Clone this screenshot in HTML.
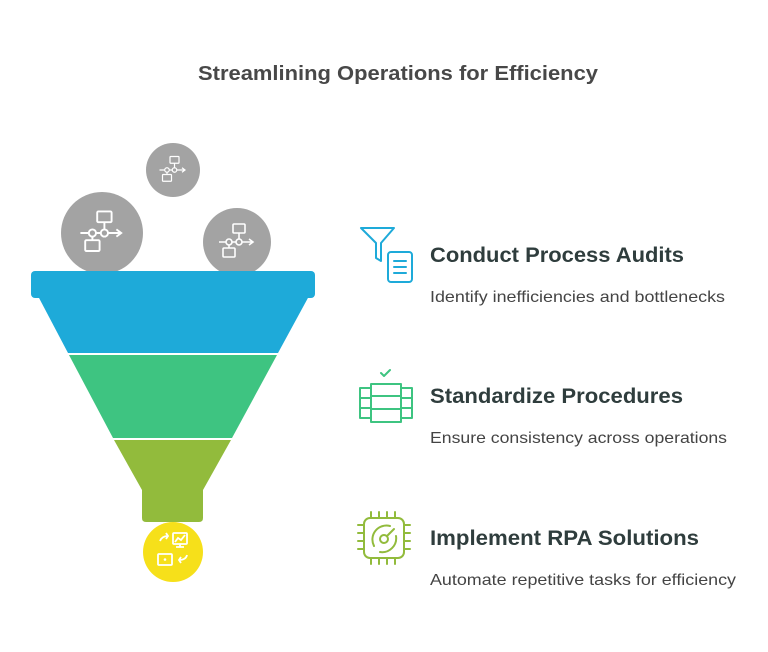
<!DOCTYPE html>
<html><head><meta charset="utf-8"><style>
html,body{margin:0;padding:0;background:#fff;}
svg{display:block;}
text{font-family:"Liberation Sans",sans-serif;}
</style></head><body>
<svg width="768" height="652" viewBox="0 0 768 652" xmlns="http://www.w3.org/2000/svg">
<text x="198" y="80" font-size="20" font-weight="bold" fill="#484848" textLength="400" lengthAdjust="spacingAndGlyphs">Streamlining Operations for Efficiency</text>

<g fill="#a3a3a3">
<circle cx="173" cy="170" r="27"/>
<circle cx="102" cy="233" r="41"/>
<circle cx="237" cy="242" r="34"/>
</g>
<g fill="none" stroke="#fff" stroke-width="1.6">
<g transform="translate(173,170) scale(0.75)">
<rect x="-4" y="-18" width="12" height="9" rx="1"/><rect x="-14" y="6" width="12" height="9" rx="1"/>
<circle cx="-8" cy="0" r="3"/><circle cx="2" cy="0" r="3"/>
<path d="M-18 0H-11M-5 0H-1M5 0H16M12 -3L16 0L12 3M2 -9V-3M-8 3V6"/>
</g>
<g transform="translate(102,233) scale(1.2)">
<rect x="-4" y="-18" width="12" height="9" rx="1"/><rect x="-14" y="6" width="12" height="9" rx="1"/>
<circle cx="-8" cy="0" r="3"/><circle cx="2" cy="0" r="3"/>
<path d="M-18 0H-11M-5 0H-1M5 0H16M12 -3L16 0L12 3M2 -9V-3M-8 3V6"/>
</g>
<g transform="translate(237,242) scale(1)">
<rect x="-4" y="-18" width="12" height="9" rx="1"/><rect x="-14" y="6" width="12" height="9" rx="1"/>
<circle cx="-8" cy="0" r="3"/><circle cx="2" cy="0" r="3"/>
<path d="M-18 0H-11M-5 0H-1M5 0H16M12 -3L16 0L12 3M2 -9V-3M-8 3V6"/>
</g>
</g>

<rect x="31" y="271" width="284" height="27" rx="4" fill="#1eaad9"/>
<polygon points="38,296 309,296 278,353 68,353" fill="#1eaad9"/>
<polygon points="69,355 277,355 232,438 113,438" fill="#3ec481"/>
<path d="M114,440 L231,440 L203,490 L203,518 Q203,522 199,522 L146,522 Q142,522 142,518 L142,490 Z" fill="#92bb3c"/>
<circle cx="173" cy="552" r="30" fill="#f6e01a"/>
<g fill="none" stroke="#fff" stroke-width="1.8">
<rect x="173" y="533" width="14" height="11" rx="1"/>
<path d="M175,542 L178,538 L181,540 L185,535 M180,544 V547 M176,547 H184"/>
<rect x="158" y="554" width="14" height="11" rx="1"/>
<path d="M160,541 Q162,536 168,536 M166,533 L168,536 L166,539"/>
<path d="M187,555 Q186,560 179,560 M181,557 L179,560 L181,563"/>
</g>
<circle cx="165" cy="559.5" r="1.3" fill="#fff"/>

<g fill="none" stroke="#1eaad9" stroke-width="2" stroke-linejoin="round" stroke-linecap="round">
<path d="M361,228 H394 L381,243 V261 L376,258 V243 Z"/>
<rect x="388" y="252" width="24" height="30" rx="3"/>
<path d="M394,261 H406 M394,267 H406 M394,273 H406"/>
</g>
<g fill="none" stroke="#3ec481" stroke-width="2" stroke-linejoin="round" stroke-linecap="round">
<path d="M381,373 L384,376 L390,370"/>
<rect x="371" y="384" width="30" height="38"/>
<path d="M371,396 H401 M371,409 H401"/>
<path d="M371,388 H360 V418 H371 M360,398 H371 M360,408 H371"/>
<path d="M401,388 H412 V418 H401 M412,398 H401 M412,408 H401"/>
</g>
<g fill="none" stroke="#92bb3c" stroke-width="2" stroke-linejoin="round" stroke-linecap="round">
<rect x="364" y="518" width="40" height="40" rx="6"/>
<path d="M371,512 V518 M379,512 V518 M387,512 V518 M395,512 V518 M371,558 V564 M379,558 V564 M387,558 V564 M395,558 V564"/>
<path d="M358,525 H364 M358,533 H364 M358,541 H364 M358,549 H364 M404,525 H410 M404,533 H410 M404,541 H410 M404,549 H410"/>
<path d="M390,526 A14,14 0 0 0 374,546"/>
<path d="M396,536 A14,14 0 0 1 380,552"/>
<circle cx="384" cy="539" r="4"/>
<path d="M387,536 L394,529"/>
</g>

<g fill="#2f3d3d" font-weight="bold" font-size="21">
<text x="430" y="262" textLength="254" lengthAdjust="spacingAndGlyphs">Conduct Process Audits</text>
<text x="430" y="403" textLength="253" lengthAdjust="spacingAndGlyphs">Standardize Procedures</text>
<text x="430" y="545" textLength="269" lengthAdjust="spacingAndGlyphs">Implement RPA Solutions</text>
</g>
<g fill="#444" font-size="16">
<text x="430" y="302" textLength="295" lengthAdjust="spacingAndGlyphs">Identify inefficiencies and bottlenecks</text>
<text x="430" y="443" textLength="297" lengthAdjust="spacingAndGlyphs">Ensure consistency across operations</text>
<text x="430" y="585" textLength="306" lengthAdjust="spacingAndGlyphs">Automate repetitive tasks for efficiency</text>
</g>
</svg>
</body></html>
